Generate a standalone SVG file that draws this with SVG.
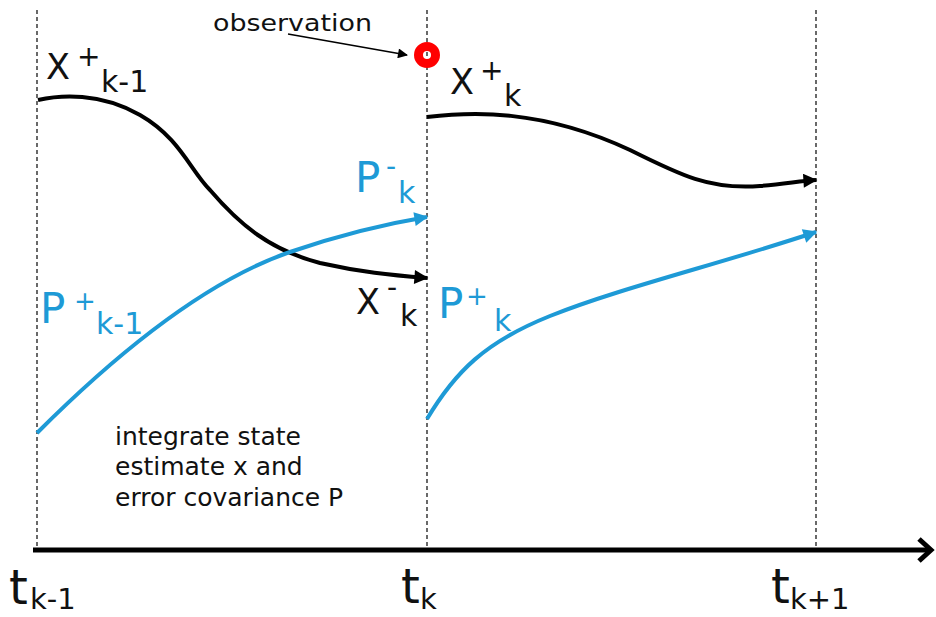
<svg xmlns="http://www.w3.org/2000/svg" width="936" height="617" viewBox="0 0 936 617">
<style>
text{font-family:"DejaVu Sans",Verdana,sans-serif;}
.k{fill:#111}
.b{fill:#1e9ad6}
.grid{stroke:#444;stroke-width:1.6;stroke-dasharray:4 3;fill:none}
.cb{fill:none;stroke:#000;stroke-width:4}
.cp{fill:none;stroke:#1e9ad6;stroke-width:4}
</style>
<defs>
<marker id="ak" viewBox="0 0 10 10" refX="9" refY="5" markerUnits="userSpaceOnUse" markerWidth="16" markerHeight="14" orient="auto"><path d="M0,0 L10,5 L0,10 z" fill="#000"/></marker>
<marker id="ab" viewBox="0 0 10 10" refX="9" refY="5" markerUnits="userSpaceOnUse" markerWidth="16" markerHeight="14" orient="auto"><path d="M0,0 L10,5 L0,10 z" fill="#1e9ad6"/></marker>
<marker id="ao" viewBox="0 0 10 10" refX="9" refY="5" markerUnits="userSpaceOnUse" markerWidth="15" markerHeight="10" orient="auto"><path d="M0,0 L10,5 L0,10 z" fill="#000"/></marker>
</defs>
<rect width="936" height="617" fill="#fff"/>
<g id="gridlines">
<line class="grid" x1="37" y1="10" x2="37" y2="550"/>
<line class="grid" x1="427" y1="10" x2="427" y2="550"/>
<line class="grid" x1="816" y1="10" x2="816" y2="550"/>
</g>
<g id="connectors">
<path class="cb" d="M38,100 C60,95 100,92 140,115 C180,138 190,170 210,190 C240,225 270,250 320,263 C360,272 390,275 427,278" marker-end="url(#ak)"/>
<path class="cp" d="M37,433 Q180,290 290,252 Q360,228 427,217" marker-end="url(#ab)"/>
<path class="cb" d="M427,117 C470,112 540,108 630,150 C680,175 710,190 760,186 C785,184 800,181 816,180" marker-end="url(#ak)"/>
<path class="cp" d="M427,419 C455,372 485,342 550,316 C620,288 720,264 816,232" marker-end="url(#ab)"/>
<line x1="288" y1="34" x2="407" y2="55" stroke="#000" stroke-width="1.6" marker-end="url(#ao)"/>
</g>
<g id="axis">
<line x1="33" y1="550" x2="931" y2="550" stroke="#000" stroke-width="5"/>
<path d="M919,539 L931,550 L919,561" fill="none" stroke="#000" stroke-width="5" stroke-linejoin="miter"/>
</g>
<g id="observation">
<circle cx="427" cy="55" r="8.5" fill="none" stroke="#f00" stroke-width="9"/>
<text class="k" x="213" y="31" font-size="23" textLength="159" lengthAdjust="spacingAndGlyphs">observation</text>
</g>
<g id="x-plus-km1">
<text class="k" x="46" y="79" font-size="35">X</text>
<text class="k" x="77" y="66" font-size="28">+</text>
<text class="k" x="101" y="92" font-size="30">k-1</text>
</g>
<g id="x-plus-k">
<text class="k" x="450" y="94" font-size="35">X</text>
<text class="k" x="480" y="80" font-size="28">+</text>
<text class="k" x="504" y="106" font-size="30">k</text>
</g>
<g id="p-minus-k">
<text class="b" x="355" y="192" font-size="42">P</text>
<text class="b" x="386" y="176" font-size="28">-</text>
<text class="b" x="398" y="203" font-size="30">k</text>
</g>
<g id="x-minus-k">
<text class="k" x="356" y="314" font-size="35">X</text>
<text class="k" x="387" y="297" font-size="28">-</text>
<text class="k" x="400" y="326" font-size="30">k</text>
</g>
<g id="p-plus-km1">
<text class="b" x="40" y="323" font-size="42">P</text>
<text class="b" x="74" y="310" font-size="26">+</text>
<text class="b" x="96" y="334" font-size="30">k-1</text>
</g>
<g id="p-plus-k">
<text class="b" x="438" y="318" font-size="42">P</text>
<text class="b" x="466" y="305" font-size="26">+</text>
<text class="b" x="494" y="331" font-size="30">k</text>
</g>
<g id="note">
<text class="k" font-size="25">
<tspan x="115" y="445">integrate state</tspan>
<tspan x="115" y="475">estimate x and</tspan>
<tspan x="115" y="506">error covariance P</tspan>
</text>
</g>
<g id="t-km1">
<text class="k" x="9" y="604" font-size="48">t</text>
<text class="k" x="30" y="609" font-size="29">k-1</text>
</g>
<g id="t-k">
<text class="k" x="401" y="603" font-size="48">t</text>
<text class="k" x="420" y="609" font-size="29">k</text>
</g>
<g id="t-kp1">
<text class="k" x="771" y="603" font-size="48">t</text>
<text class="k" x="790" y="609" font-size="29">k+1</text>
</g>
</svg>
